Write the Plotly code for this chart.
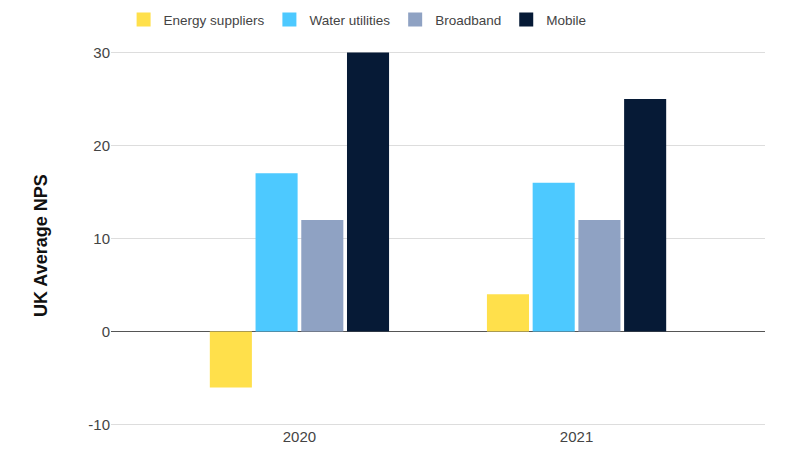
import plotly.graph_objects as go

years = ["2020", "2021"]
series_names = ["Energy suppliers", "Water utilities", "Broadband", "Mobile"]
energy = [-6, 4]
water = [17, 16]
broadband = [12, 12]
mobile = [30, 25]
colors = ["#FFE04B", "#4DC9FF", "#8FA2C3", "#061A36"]
ytick_vals = [-10, 0, 10, 20, 30]
ytick_text = ["-10", "0", "10", "20", "30"]
y_title = "UK Average NPS"

fig = go.Figure()
for name, vals, col in zip(series_names, [energy, water, broadband, mobile], colors):
    fig.add_trace(go.Bar(x=years, y=vals, name=name, showlegend=False, legendgroup=name,
                         marker=dict(color=col, line=dict(width=0))))
for name, col in zip(series_names, colors):
    fig.add_trace(go.Scatter(x=[None], y=[None], mode="markers", name=name, legendgroup=name,
                             marker=dict(symbol="square", size=14, color=col, line=dict(width=0))))

fig.update_layout(
    width=800, height=464,
    paper_bgcolor="white", plot_bgcolor="white",
    margin=dict(l=103, r=43, t=43, b=46, autoexpand=False),
    barmode="group", bargap=0.34, bargroupgap=0.08,
    font=dict(family="Liberation Sans, Arial, sans-serif", size=15, color="#444"),
    legend=dict(orientation="h", xref="container", yref="container",
                x=0.437, xanchor="center", y=0.975, yanchor="middle",
                font=dict(size=13.5, color="#444"), itemwidth=30, traceorder="normal"),
    showlegend=True,
    annotations=[dict(text="<b>" + y_title + "</b>", xref="paper", yref="paper",
                      x=-0.107, y=0.48, xanchor="center", yanchor="middle",
                      textangle=-90, showarrow=False,
                      font=dict(size=18, color="#111"))],
)
fig.update_xaxes(type="category", range=[-0.68, 1.68], showgrid=False, showline=False,
                 ticks="", tickfont=dict(size=15, color="#444"))
fig.update_yaxes(range=[-10.15, 30.15], tickvals=ytick_vals, ticktext=ytick_text, showgrid=True,
                 gridcolor="#DDDDDD", gridwidth=1, zeroline=True, zerolinecolor="#555555",
                 zerolinewidth=1, ticks="", tickfont=dict(size=15, color="#444"))

fig.write_html("out.html")
